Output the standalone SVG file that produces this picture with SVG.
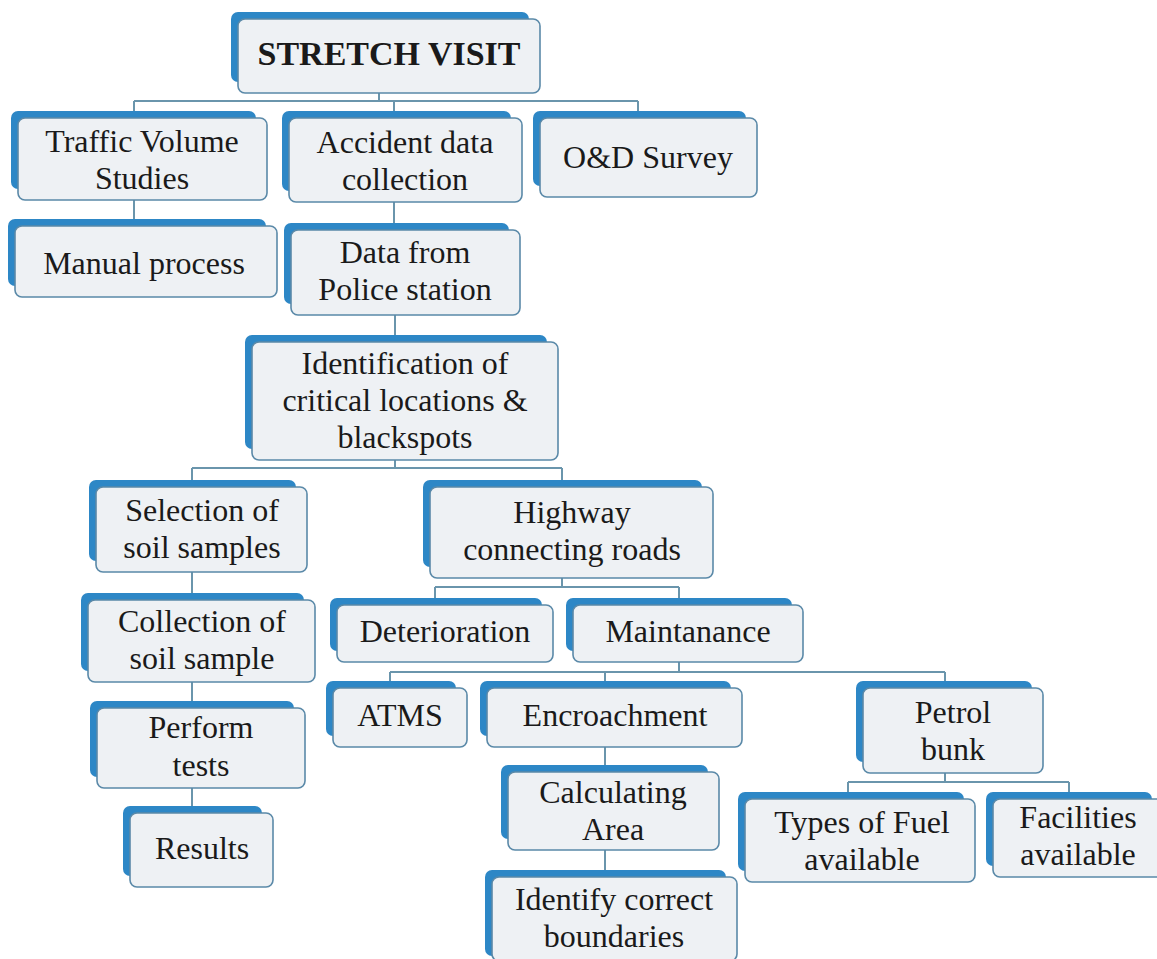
<svg xmlns="http://www.w3.org/2000/svg" width="1157" height="959" viewBox="0 0 1157 959">
<style>
.bk{fill:#2d87c6;}
.fr{fill:#eef1f4;stroke:#5a89a8;stroke-width:1.6;}
.t{font-family:"Liberation Serif","Times New Roman",serif;font-size:32px;fill:#1a1a1a;text-anchor:middle;}
.tb{font-weight:bold;font-size:34px;}
.c{fill:none;stroke:#6a95ac;stroke-width:2;}
</style>
<rect width="1157" height="959" fill="#ffffff"/>
<g id="connectors">
<path class="c" d="M379 93V101M134 101H638M134 101V112M394 101V112M638 101V112"/>
<path class="c" d="M134 200V220"/>
<path class="c" d="M394 202V224M395 315V336"/>
<path class="c" d="M395 460V468M192 468H562M192 468V481M562 468V481"/>
<path class="c" d="M192 572V594M192 682V702M192 788V807"/>
<path class="c" d="M562 578V587M435 587H679M435 587V599M679 587V599"/>
<path class="c" d="M679 662V672M390 672H945M390 672V682M605 672V682M945 672V682"/>
<path class="c" d="M605 747V766M605 850V871"/>
<path class="c" d="M945 773V782M848 782H1069M848 782V793M1069 782V793"/>
</g>
<g id="stretch">
<rect class="bk" x="231" y="12" width="298" height="70" rx="7"/>
<rect class="fr" x="238" y="19" width="302" height="74" rx="7"/>
<text class="t tb" x="389" y="65">STRETCH VISIT</text>
</g>
<g id="traffic">
<rect class="bk" x="11" y="111" width="245" height="78" rx="7"/>
<rect class="fr" x="18" y="118" width="249" height="82" rx="7"/>
<text class="t" x="142" y="152">Traffic Volume</text>
<text class="t" x="142" y="189">Studies</text>
</g>
<g id="accident">
<rect class="bk" x="282" y="111" width="229" height="80" rx="7"/>
<rect class="fr" x="289" y="118" width="233" height="84" rx="7"/>
<text class="t" x="405" y="153">Accident data</text>
<text class="t" x="405" y="190">collection</text>
</g>
<g id="od">
<rect class="bk" x="533" y="111" width="213" height="75" rx="7"/>
<rect class="fr" x="540" y="118" width="217" height="79" rx="7"/>
<text class="t" x="648" y="168">O&amp;D Survey</text>
</g>
<g id="manual">
<rect class="bk" x="8" y="219" width="258" height="67" rx="7"/>
<rect class="fr" x="15" y="226" width="262" height="71" rx="7"/>
<text class="t" x="144" y="274">Manual process</text>
</g>
<g id="police">
<rect class="bk" x="284" y="223" width="225" height="81" rx="7"/>
<rect class="fr" x="291" y="230" width="229" height="85" rx="7"/>
<text class="t" x="405" y="263">Data from</text>
<text class="t" x="405" y="300">Police station</text>
</g>
<g id="identification">
<rect class="bk" x="245" y="335" width="302" height="114" rx="7"/>
<rect class="fr" x="252" y="342" width="306" height="118" rx="7"/>
<text class="t" x="405" y="374">Identification of</text>
<text class="t" x="405" y="411">critical locations &amp;</text>
<text class="t" x="405" y="448">blackspots</text>
</g>
<g id="selection">
<rect class="bk" x="89" y="480" width="207" height="81" rx="7"/>
<rect class="fr" x="96" y="487" width="211" height="85" rx="7"/>
<text class="t" x="202" y="521">Selection of</text>
<text class="t" x="202" y="558">soil samples</text>
</g>
<g id="highway">
<rect class="bk" x="423" y="480" width="279" height="87" rx="7"/>
<rect class="fr" x="430" y="487" width="283" height="91" rx="7"/>
<text class="t" x="572" y="523">Highway</text>
<text class="t" x="572" y="560">connecting roads</text>
</g>
<g id="collection">
<rect class="bk" x="81" y="593" width="223" height="78" rx="7"/>
<rect class="fr" x="88" y="600" width="227" height="82" rx="7"/>
<text class="t" x="202" y="632">Collection of</text>
<text class="t" x="202" y="669">soil sample</text>
</g>
<g id="perform">
<rect class="bk" x="90" y="701" width="204" height="76" rx="7"/>
<rect class="fr" x="97" y="708" width="208" height="80" rx="7"/>
<text class="t" x="201" y="738">Perform</text>
<text class="t" x="201" y="776">tests</text>
</g>
<g id="results">
<rect class="bk" x="123" y="806" width="139" height="70" rx="7"/>
<rect class="fr" x="130" y="813" width="143" height="74" rx="7"/>
<text class="t" x="202" y="859">Results</text>
</g>
<g id="deterioration">
<rect class="bk" x="330" y="598" width="212" height="53" rx="7"/>
<rect class="fr" x="337" y="605" width="216" height="57" rx="7"/>
<text class="t" x="445" y="642">Deterioration</text>
</g>
<g id="maintanance">
<rect class="bk" x="566" y="598" width="226" height="53" rx="7"/>
<rect class="fr" x="573" y="605" width="230" height="57" rx="7"/>
<text class="t" x="688" y="642">Maintanance</text>
</g>
<g id="atms">
<rect class="bk" x="326" y="681" width="130" height="55" rx="7"/>
<rect class="fr" x="333" y="688" width="134" height="59" rx="7"/>
<text class="t" x="400" y="726">ATMS</text>
</g>
<g id="encroachment">
<rect class="bk" x="480" y="681" width="251" height="55" rx="7"/>
<rect class="fr" x="487" y="688" width="255" height="59" rx="7"/>
<text class="t" x="615" y="726">Encroachment</text>
</g>
<g id="petrol">
<rect class="bk" x="856" y="681" width="176" height="81" rx="7"/>
<rect class="fr" x="863" y="688" width="180" height="85" rx="7"/>
<text class="t" x="953" y="723">Petrol</text>
<text class="t" x="953" y="760">bunk</text>
</g>
<g id="calculating">
<rect class="bk" x="501" y="765" width="207" height="74" rx="7"/>
<rect class="fr" x="508" y="772" width="211" height="78" rx="7"/>
<text class="t" x="613" y="803">Calculating</text>
<text class="t" x="613" y="840">Area</text>
</g>
<g id="identify">
<rect class="bk" x="485" y="870" width="241" height="86" rx="7"/>
<rect class="fr" x="492" y="877" width="245" height="84" rx="7"/>
<text class="t" x="614" y="910">Identify correct</text>
<text class="t" x="614" y="947">boundaries</text>
</g>
<g id="types">
<rect class="bk" x="738" y="792" width="226" height="79" rx="7"/>
<rect class="fr" x="745" y="799" width="230" height="83" rx="7"/>
<text class="t" x="862" y="833">Types of Fuel</text>
<text class="t" x="862" y="870">available</text>
</g>
<g id="facilities">
<rect class="bk" x="986" y="792" width="166" height="74" rx="7"/>
<rect class="fr" x="993" y="799" width="170" height="78" rx="7"/>
<text class="t" x="1078" y="828">Facilities</text>
<text class="t" x="1078" y="865">available</text>
</g>
</svg>
